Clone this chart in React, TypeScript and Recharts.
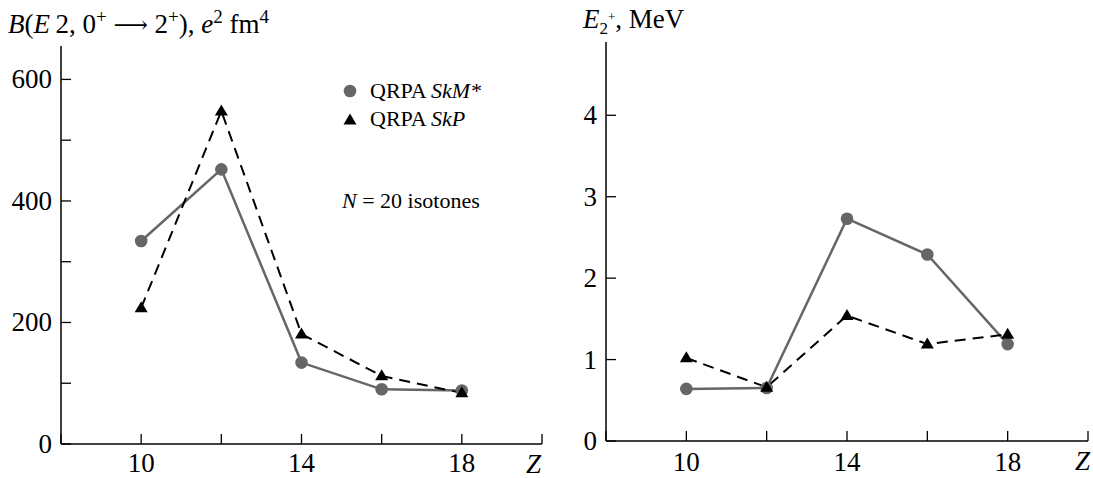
import React from 'react';
import { LineChart, Line, XAxis, YAxis } from 'recharts';

const zValues = [10, 12, 14, 16, 18];
const be2SkM = [334, 452, 134, 90, 88];
const be2SkP = [224, 548, 181, 112, 84];
const e2SkM = [0.64, 0.65, 2.73, 2.29, 1.19];
const e2SkP = [1.02, 0.66, 1.54, 1.19, 1.31];

const xTicks = [8, 10, 12, 14, 16, 18, 20];
const xTickLabels = [10, 14, 18];
const leftYTicks = [0, 100, 200, 300, 400, 500, 600];
const leftYLabels = [0, 200, 400, 600];
const rightYTicks = [0, 1, 2, 3, 4];
const rightYLabels = [0, 1, 2, 3, 4];

const FONT = "'Liberation Serif', 'Times New Roman', serif";
const GRAY = '#666666';

const leftData = zValues.map((z, i) => ({ z, skm: be2SkM[i], skp: be2SkP[i] }));
const rightData = zValues.map((z, i) => ({ z, skm: e2SkM[i], skp: e2SkP[i] }));

const makeXTick = (labels: number[], dyText: number) => (props: any) => {
  const { x, y, payload } = props;
  const v = payload.value;
  return (
    <g>
      <line x1={x} x2={x} y1={y} y2={y - 10} stroke="#000" strokeWidth={1.3} />
      {labels.includes(v) && (
        <text
          x={x}
          y={y + dyText}
          textAnchor="middle"
          fontFamily={FONT}
          style={{ fontFamily: FONT }}
          fontSize={27}
          fill="#000"
        >
          {v}
        </text>
      )}
    </g>
  );
};

const makeYTick = (labels: number[]) => (props: any) => {
  const { x, y, payload } = props;
  const v = payload.value;
  return (
    <g>
      <line x1={x} x2={x + 10} y1={y} y2={y} stroke="#000" strokeWidth={1.3} />
      {labels.includes(v) && (
        <text
          x={x - 9}
          y={y + 9}
          textAnchor="end"
          fontFamily={FONT}
          style={{ fontFamily: FONT }}
          fontSize={27}
          fill="#000"
        >
          {v}
        </text>
      )}
    </g>
  );
};

const TriangleDot = (props: any) => {
  const { cx, cy, index } = props;
  if (cx == null || cy == null) return <g key={`t-${index}`} />;
  const h = 11;
  const w = 13;
  const pts = `${cx},${cy - h * 0.6} ${cx - w / 2},${cy + h * 0.4} ${cx + w / 2},${cy + h * 0.4}`;
  return <polygon key={`t-${index}`} points={pts} fill="#000" stroke="none" />;
};

const axisLineStyle = { stroke: '#000', strokeWidth: 1.5 };

function Panel(props: {
  data: any[];
  width: number;
  margin: any;
  xHeight: number;
  yDomain: [number, number];
  yTicks: number[];
  yLabels: number[];
  xDy: number;
}) {
  const { data, width, margin, xHeight, yDomain, yTicks, yLabels, xDy } = props;
  return (
    <LineChart width={width} height={478} data={data} margin={margin}>
      <XAxis
        type="number"
        dataKey="z"
        domain={[8, 20]}
        ticks={xTicks}
        interval={0}
        allowDataOverflow
        height={xHeight}
        tickSize={0}
        tickMargin={0}
        tickLine={false}
        axisLine={axisLineStyle}
        tick={makeXTick(xTickLabels, xDy)}
      />
      <YAxis
        type="number"
        domain={yDomain}
        ticks={yTicks}
        interval={0}
        allowDataOverflow
        width={61}
        tickSize={0}
        tickMargin={0}
        tickLine={false}
        axisLine={axisLineStyle}
        tick={makeYTick(yLabels)}
      />
      <Line
        type="linear"
        dataKey="skm"
        stroke={GRAY}
        strokeWidth={2.5}
        dot={{ r: 6.3, fill: GRAY, stroke: 'none' }}
        activeDot={false}
        isAnimationActive={false}
      />
      <Line
        type="linear"
        dataKey="skp"
        stroke="#000"
        strokeWidth={2}
        strokeDasharray="11 7"
        dot={TriangleDot}
        activeDot={false}
        isAnimationActive={false}
      />
    </LineChart>
  );
}

export default function App() {
  return (
    <div style={{ position: 'absolute', left: 0, top: 0, width: 1093, height: 478, background: '#fff' }}>
      <div style={{ position: 'absolute', left: 0, top: 0 }}>
        <Panel
          data={leftData}
          width={560}
          margin={{ top: 46, right: 18, bottom: 0, left: 0 }}
          xHeight={34}
          yDomain={[0, 655]}
          yTicks={leftYTicks}
          yLabels={leftYLabels}
          xDy={28}
        />
      </div>
      <div style={{ position: 'absolute', left: 545, top: 0 }}>
        <Panel
          data={rightData}
          width={548}
          margin={{ top: 42, right: 5, bottom: 0, left: 0 }}
          xHeight={37}
          yDomain={[0, 4.9]}
          yTicks={rightYTicks}
          yLabels={rightYLabels}
          xDy={30}
        />
      </div>
      <svg
        width={1093}
        height={478}
        style={{ position: 'absolute', left: 0, top: 0, pointerEvents: 'none', fontFamily: FONT }}
        fontFamily={FONT}
      >
        <text x={8} y={33} fontSize={27} fill="#000">
          <tspan fontStyle="italic">B</tspan>
          <tspan>(</tspan>
          <tspan fontStyle="italic">E</tspan>
          <tspan>{'\u20092, 0'}</tspan>
          <tspan dy={-10} fontSize={19}>+</tspan>
          <tspan dy={10}>{' '}</tspan>
          <tspan fontFamily="'DejaVu Serif', serif" fontSize={24}>{'\u27F6'}</tspan>
          <tspan>{' 2'}</tspan>
          <tspan dy={-10} fontSize={19}>+</tspan>
          <tspan dy={10}>{'), '}</tspan>
          <tspan fontStyle="italic">e</tspan>
          <tspan dy={-10} fontSize={19}>2</tspan>
          <tspan dy={10}>{' fm'}</tspan>
          <tspan dy={-10} fontSize={19}>4</tspan>
        </text>
        <text x={583} y={28} fontSize={27} fill="#000">
          <tspan fontStyle="italic">E</tspan>
          <tspan dy={6} fontSize={17}>2</tspan>
          <tspan dy={-13} fontSize={13}>+</tspan>
          <tspan dy={7}>{', MeV'}</tspan>
        </text>

        <circle cx={350} cy={91} r={6.3} fill={GRAY} />
        <text x={370} y={98} fontSize={22} fill="#000">
          {'QRPA '}
          <tspan fontStyle="italic">SkM*</tspan>
        </text>
        <polygon points="350,113.4 343.5,124.4 356.5,124.4" fill="#000" />
        <text x={370} y={126} fontSize={22} fill="#000">
          {'QRPA '}
          <tspan fontStyle="italic">SkP</tspan>
        </text>
        <text x={342} y={208} fontSize={22} fill="#000">
          <tspan fontStyle="italic">N</tspan>
          {' = 20 isotones'}
        </text>

        <text x={541} y={473} fontSize={27} fontStyle="italic" textAnchor="end" fill="#000">Z</text>
        <text x={1090} y={470} fontSize={27} fontStyle="italic" textAnchor="end" fill="#000">Z</text>
      </svg>
    </div>
  );
}
